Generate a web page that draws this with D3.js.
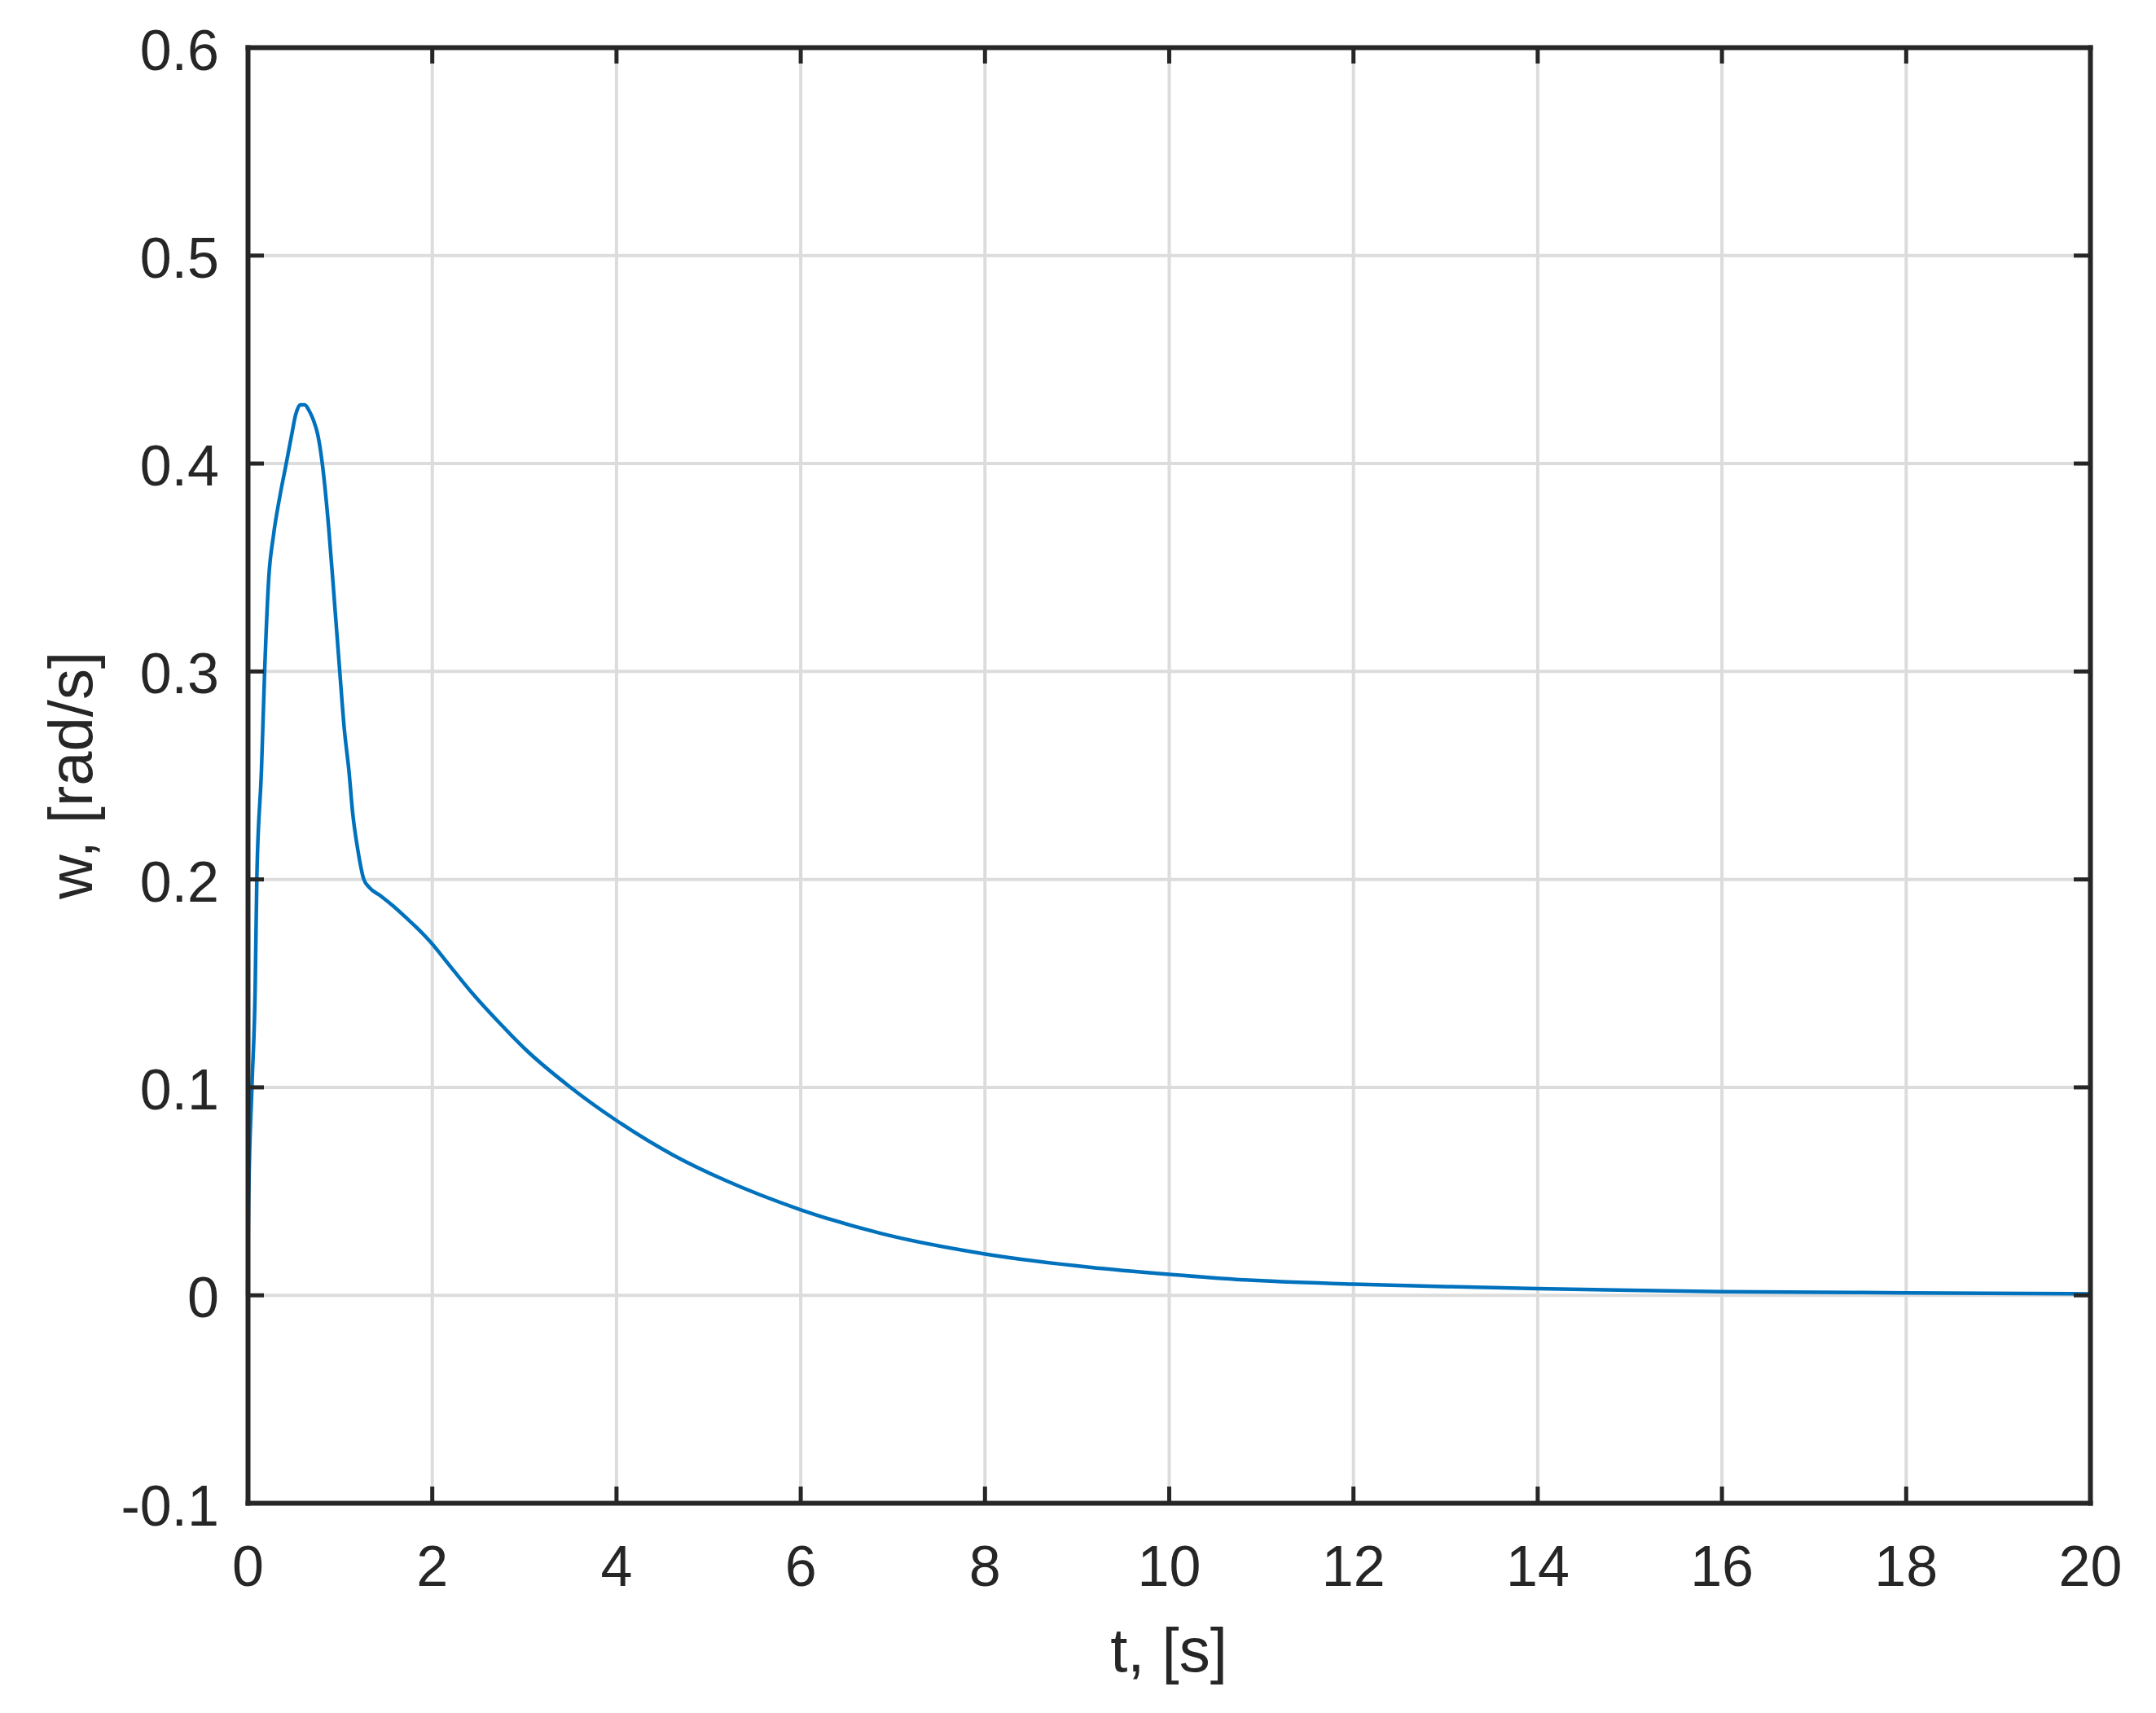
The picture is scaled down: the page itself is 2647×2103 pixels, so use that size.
<!DOCTYPE html>
<html>
<head>
<meta charset="utf-8">
<script src="https://cdn.jsdelivr.net/npm/d3@7"></script>
<style>
  body { margin: 0; background: #fff; }
  svg { display: block; }
  text { font-family: "Liberation Sans", Arial, Helvetica, sans-serif; fill: #262626; }
</style>
</head>
<body>
<div id="chart"></div>
<script>
// time samples [s]
var timeValues = [0, 0.01, 0.047, 0.082, 0.10, 0.15, 0.185, 0.23, 0.28, 0.35, 0.42, 0.48, 0.52, 0.57,
  0.62, 0.67, 0.72, 0.76, 0.81, 0.88, 0.94, 1.0, 1.05, 1.10, 1.14, 1.20, 1.26, 1.32, 1.44, 1.58,
  1.73, 1.85, 1.98, 2.2, 2.44, 2.74, 3.03, 3.5, 3.98, 4.63, 5.19, 6.0, 6.88, 7.99, 9.14, 10.03,
  10.83, 12.0, 13, 14, 15, 16, 18, 20]
// angular velocity w [rad/s]
var wValues = [0, 0.042, 0.1, 0.147, 0.2, 0.252, 0.30, 0.345, 0.365, 0.384, 0.40, 0.414, 0.423, 0.428,
  0.428, 0.425, 0.42, 0.414, 0.40, 0.369, 0.335, 0.30, 0.272, 0.252, 0.232, 0.213, 0.20, 0.196, 0.192, 0.187,
  0.181, 0.176, 0.170, 0.158, 0.145, 0.1305, 0.1175, 0.100, 0.0846, 0.067, 0.055, 0.041, 0.0295, 0.0198, 0.0133, 0.0098,
  0.0072, 0.0052, 0.004, 0.003, 0.0022, 0.0016, 0.001, 0.0005]

var xTicks = [0, 2, 4, 6, 8, 10, 12, 14, 16, 18, 20]
var yTicks = [-0.1, 0, 0.1, 0.2, 0.3, 0.4, 0.5, 0.6]

var data = timeValues.map(function(t, i) { return {t: t, w: wValues[i]} })

var W = 2647, H = 2103
var margin = {top: 58, right: 81, bottom: 258, left: 304},
    width = W - margin.left - margin.right,
    height = H - margin.top - margin.bottom

var x = d3.scaleLinear().domain([0, 20]).range([0, width])
var y = d3.scaleLinear().domain([-0.1, 0.6]).range([height, 0])

var svg = d3.select("#chart").append("svg")
    .attr("width", W)
    .attr("height", H)
  .append("g")
    .attr("transform", "translate(" + margin.left + "," + margin.top + ")")

// grid
svg.append("g")
    .attr("class", "xgrid")
    .attr("transform", "translate(0," + height + ")")
    .call(d3.axisBottom(x).tickValues(xTicks).tickSize(-height).tickFormat(""))
svg.append("g")
    .attr("class", "ygrid")
    .call(d3.axisLeft(y).tickValues(yTicks).tickSize(-width).tickFormat(""))
svg.selectAll(".xgrid line, .ygrid line")
    .attr("stroke", "#dcdcdc")
    .attr("stroke-width", 4)
svg.selectAll(".xgrid .domain, .ygrid .domain").remove()

// curve
var line = d3.line()
    .x(function(d) { return x(d.t) })
    .y(function(d) { return y(d.w) })
    .curve(d3.curveMonotoneX)

svg.append("path")
    .datum(data)
    .attr("fill", "none")
    .attr("stroke", "#0072BD")
    .attr("stroke-width", 4.5)
    .attr("stroke-linejoin", "round")
    .attr("d", line)

// axes, MATLAB style box with inward ticks
var tickLen = 20
svg.append("g")
    .attr("class", "xaxis")
    .attr("transform", "translate(0," + height + ")")
    .call(d3.axisBottom(x).tickValues(xTicks).tickSizeInner(-tickLen).tickSizeOuter(0).tickPadding(52))
svg.append("g")
    .attr("class", "yaxis")
    .call(d3.axisLeft(y).tickValues(yTicks).tickSizeInner(-tickLen).tickSizeOuter(0).tickPadding(35)
      .tickFormat(function(d) { return d3.format(".1f")(d).replace("0.0", "0").replace("−", "-") }))
svg.append("g")
    .attr("class", "topaxis")
    .call(d3.axisTop(x).tickValues(xTicks).tickSizeInner(-tickLen).tickSizeOuter(0).tickFormat(""))
svg.append("g")
    .attr("class", "rightaxis")
    .attr("transform", "translate(" + width + ",0)")
    .call(d3.axisRight(y).tickValues(yTicks).tickSizeInner(-tickLen).tickSizeOuter(0).tickFormat(""))

svg.selectAll(".xaxis path, .yaxis path, .topaxis path, .rightaxis path")
    .attr("stroke", "#262626")
    .attr("stroke-width", 6)
    .attr("stroke-linecap", "square")
svg.selectAll(".xaxis line, .yaxis line, .topaxis line, .rightaxis line")
    .attr("stroke", "#262626")
    .attr("stroke-width", 5)

svg.selectAll(".xaxis text")
    .attr("font-size", 70)
    .attr("fill", "#262626")
    .attr("y", 102)
    .attr("dy", null)
svg.selectAll(".yaxis text")
    .attr("font-size", 70)
    .attr("fill", "#262626")
    .attr("dy", 27)

// axis titles
svg.append("text")
    .attr("x", width / 2)
    .attr("y", 2052 - margin.top)
    .attr("text-anchor", "middle")
    .attr("font-size", 76)
    .text("t, [s]")

svg.append("text")
    .attr("transform", "translate(" + (113 - margin.left) + "," + (952 - margin.top) + ") rotate(-90)")
    .attr("text-anchor", "middle")
    .attr("font-size", 76)
    .text("w, [rad/s]")
</script>
</body>
</html>
